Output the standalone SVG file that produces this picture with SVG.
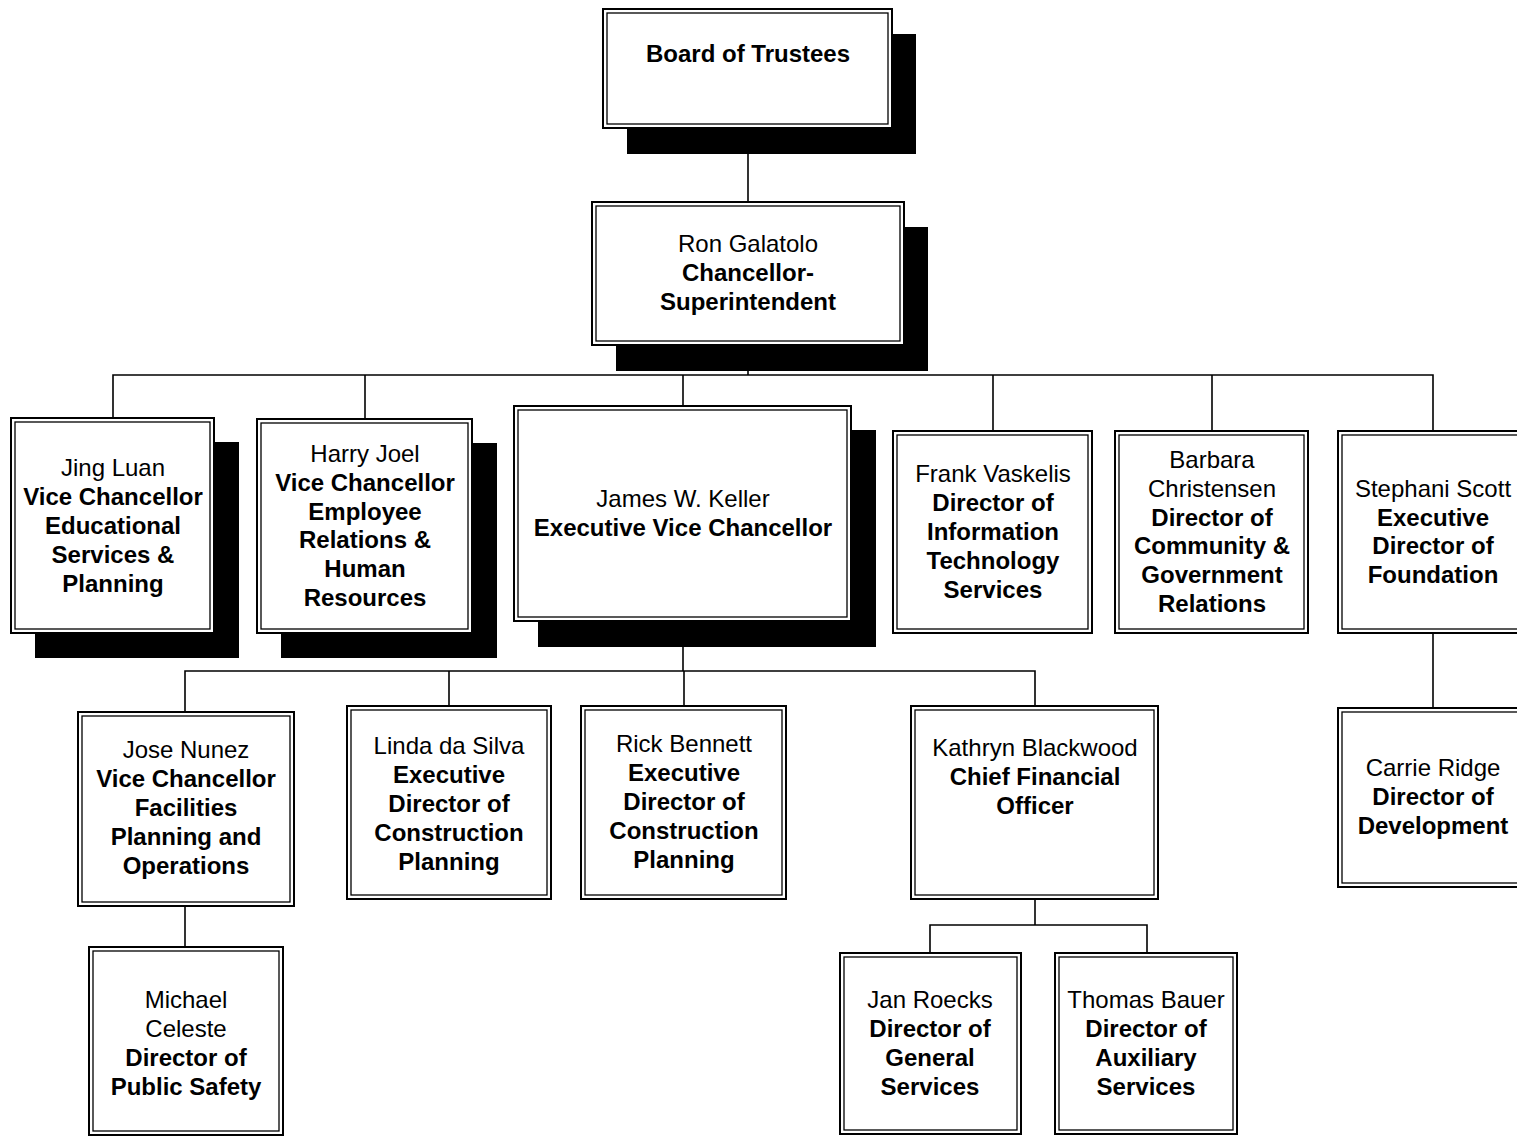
<svg xmlns="http://www.w3.org/2000/svg" width="1517" height="1136" viewBox="0 0 1517 1136">
  <style>
    .bg { fill: #ffffff; }
    .shadow { fill: #000000; }
    .outer { fill: #ffffff; stroke: #000000; stroke-width: 2; }
    .inner { fill: none; stroke: #000000; stroke-width: 1.3; }
    .conn { fill: none; stroke: #000000; stroke-width: 1.6; }
    text { font-family: "Liberation Sans", Arial, sans-serif; font-size: 24px; text-anchor: middle; fill: #000000; }
    .b { font-weight: bold; }
  </style>

  <rect class="bg" x="0" y="0" width="1517" height="1136"/>

  <!-- reporting lines -->
  <g id="connectors">
    <path class="conn" d="M748 128 V202"/>
    <path class="conn" d="M748 345 V375"/>
    <path class="conn" d="M113 418 V375 H1433 V431"/>
    <path class="conn" d="M365 375 V419"/>
    <path class="conn" d="M683 375 V406"/>
    <path class="conn" d="M993 375 V431"/>
    <path class="conn" d="M1212 375 V431"/>
    <path class="conn" d="M1433 633 V708"/>
    <path class="conn" d="M683 621 V671"/>
    <path class="conn" d="M185 712 V671 H1035 V706"/>
    <path class="conn" d="M449 671 V706"/>
    <path class="conn" d="M684 671 V706"/>
    <path class="conn" d="M185 906 V947"/>
    <path class="conn" d="M1035 899 V925"/>
    <path class="conn" d="M930 953 V925 H1147 V953"/>
  </g>

  <g id="board">
    <rect class="shadow" x="627" y="34" width="289" height="120"/>
    <rect class="outer" x="603" y="9" width="289" height="119"/>
    <rect class="inner" x="607" y="13" width="281" height="111"/>
    <text class="b" x="748" y="62">Board of Trustees</text>
  </g>

  <g id="chancellor">
    <rect class="shadow" x="616" y="227" width="312" height="144"/>
    <rect class="outer" x="592" y="202" width="312" height="143"/>
    <rect class="inner" x="596" y="206" width="304" height="135"/>
    <text x="748" y="252">Ron Galatolo</text>
    <text class="b" x="748" y="281">Chancellor-</text>
    <text class="b" x="748" y="310">Superintendent</text>
  </g>

  <g id="jing-luan">
    <rect class="shadow" x="35" y="442" width="204" height="216"/>
    <rect class="outer" x="11" y="418" width="203" height="215"/>
    <rect class="inner" x="15" y="422" width="195" height="207"/>
    <text x="113" y="476">Jing Luan</text>
    <text class="b" x="113" y="505">Vice Chancellor</text>
    <text class="b" x="113" y="534">Educational</text>
    <text class="b" x="113" y="563">Services &amp;</text>
    <text class="b" x="113" y="592">Planning</text>
  </g>

  <g id="harry-joel">
    <rect class="shadow" x="281" y="443" width="216" height="215"/>
    <rect class="outer" x="257" y="419" width="215" height="214"/>
    <rect class="inner" x="261" y="423" width="207" height="206"/>
    <text x="365" y="462">Harry Joel</text>
    <text class="b" x="365" y="491">Vice Chancellor</text>
    <text class="b" x="365" y="520">Employee</text>
    <text class="b" x="365" y="548">Relations &amp;</text>
    <text class="b" x="365" y="577">Human</text>
    <text class="b" x="365" y="606">Resources</text>
  </g>

  <g id="james-keller">
    <rect class="shadow" x="538" y="430" width="338" height="217"/>
    <rect class="outer" x="514" y="406" width="337" height="215"/>
    <rect class="inner" x="518" y="410" width="329" height="207"/>
    <text x="683" y="507">James W. Keller</text>
    <text class="b" x="683" y="536">Executive Vice Chancellor</text>
  </g>

  <g id="frank-vaskelis">
    <rect class="outer" x="893" y="431" width="199" height="202"/>
    <rect class="inner" x="897" y="435" width="191" height="194"/>
    <text x="993" y="482">Frank Vaskelis</text>
    <text class="b" x="993" y="511">Director of</text>
    <text class="b" x="993" y="540">Information</text>
    <text class="b" x="993" y="569">Technology</text>
    <text class="b" x="993" y="598">Services</text>
  </g>

  <g id="barbara-christensen">
    <rect class="outer" x="1115" y="431" width="193" height="202"/>
    <rect class="inner" x="1119" y="435" width="185" height="194"/>
    <text x="1212" y="468">Barbara</text>
    <text x="1212" y="497">Christensen</text>
    <text class="b" x="1212" y="526">Director of</text>
    <text class="b" x="1212" y="554">Community &amp;</text>
    <text class="b" x="1212" y="583">Government</text>
    <text class="b" x="1212" y="612">Relations</text>
  </g>

  <g id="stephani-scott">
    <rect class="outer" x="1338" y="431" width="190" height="202"/>
    <rect class="inner" x="1342" y="435" width="182" height="194"/>
    <text x="1433" y="497">Stephani Scott</text>
    <text class="b" x="1433" y="526">Executive</text>
    <text class="b" x="1433" y="554">Director of</text>
    <text class="b" x="1433" y="583">Foundation</text>
  </g>

  <g id="carrie-ridge">
    <rect class="outer" x="1338" y="708" width="190" height="179"/>
    <rect class="inner" x="1342" y="712" width="182" height="171"/>
    <text x="1433" y="776">Carrie Ridge</text>
    <text class="b" x="1433" y="805">Director of</text>
    <text class="b" x="1433" y="834">Development</text>
  </g>

  <g id="jose-nunez">
    <rect class="outer" x="78" y="712" width="216" height="194"/>
    <rect class="inner" x="82" y="716" width="208" height="186"/>
    <text x="186" y="758">Jose Nunez</text>
    <text class="b" x="186" y="787">Vice Chancellor</text>
    <text class="b" x="186" y="816">Facilities</text>
    <text class="b" x="186" y="845">Planning and</text>
    <text class="b" x="186" y="874">Operations</text>
  </g>

  <g id="linda-da-silva">
    <rect class="outer" x="347" y="706" width="204" height="193"/>
    <rect class="inner" x="351" y="710" width="196" height="185"/>
    <text x="449" y="754">Linda da Silva</text>
    <text class="b" x="449" y="783">Executive</text>
    <text class="b" x="449" y="812">Director of</text>
    <text class="b" x="449" y="841">Construction</text>
    <text class="b" x="449" y="870">Planning</text>
  </g>

  <g id="rick-bennett">
    <rect class="outer" x="581" y="706" width="205" height="193"/>
    <rect class="inner" x="585" y="710" width="197" height="185"/>
    <text x="684" y="752">Rick Bennett</text>
    <text class="b" x="684" y="781">Executive</text>
    <text class="b" x="684" y="810">Director of</text>
    <text class="b" x="684" y="839">Construction</text>
    <text class="b" x="684" y="868">Planning</text>
  </g>

  <g id="kathryn-blackwood">
    <rect class="outer" x="911" y="706" width="247" height="193"/>
    <rect class="inner" x="915" y="710" width="239" height="185"/>
    <text x="1035" y="756">Kathryn Blackwood</text>
    <text class="b" x="1035" y="785">Chief Financial</text>
    <text class="b" x="1035" y="814">Officer</text>
  </g>

  <g id="michael-celeste">
    <rect class="outer" x="89" y="947" width="194" height="188"/>
    <rect class="inner" x="93" y="951" width="186" height="180"/>
    <text x="186" y="1008">Michael</text>
    <text x="186" y="1037">Celeste</text>
    <text class="b" x="186" y="1066">Director of</text>
    <text class="b" x="186" y="1095">Public Safety</text>
  </g>

  <g id="jan-roecks">
    <rect class="outer" x="840" y="953" width="181" height="181"/>
    <rect class="inner" x="844" y="957" width="173" height="173"/>
    <text x="930" y="1008">Jan Roecks</text>
    <text class="b" x="930" y="1037">Director of</text>
    <text class="b" x="930" y="1066">General</text>
    <text class="b" x="930" y="1095">Services</text>
  </g>

  <g id="thomas-bauer">
    <rect class="outer" x="1055" y="953" width="182" height="181"/>
    <rect class="inner" x="1059" y="957" width="174" height="173"/>
    <text x="1146" y="1008">Thomas Bauer</text>
    <text class="b" x="1146" y="1037">Director of</text>
    <text class="b" x="1146" y="1066">Auxiliary</text>
    <text class="b" x="1146" y="1095">Services</text>
  </g>
</svg>
